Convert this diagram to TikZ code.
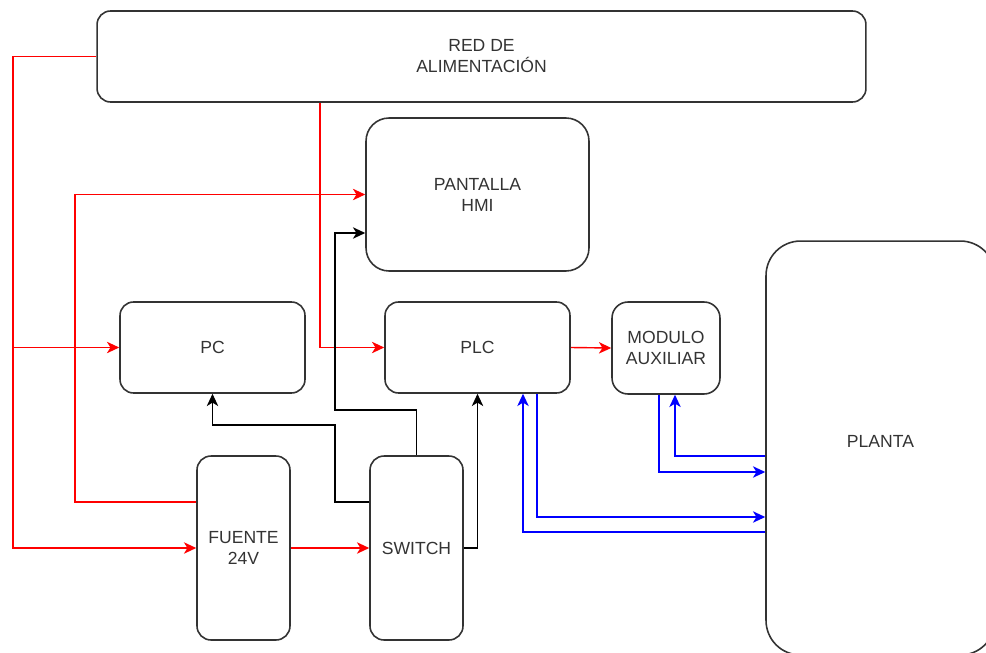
\documentclass[tikz,border=0pt]{standalone}
\usepackage{fontspec}
\setmainfont{Liberation Sans}
\usetikzlibrary{arrows.meta}
\definecolor{boxgray}{HTML}{333333}

\tikzset{
  blk/.style={draw=boxgray,line width=0.9pt,rounded corners=#1,align=center,
    inner sep=0pt,text=boxgray,font=\fontsize{10}{12}\selectfont},
  tip/.style={-{Stealth[length=7pt,width=6.5pt,inset=2pt]}},
  pwr/.style={red,line width=0.8pt,tip},
  eth/.style={black,line width=0.8pt,tip},
  sig/.style={blue,line width=0.8pt,tip}
}

\begin{document}
\begin{tikzpicture}[x=0.02cm,y=-0.02cm]
\useasboundingbox (0,0) rectangle (986,652);
\clip (0,0) rectangle (986,652);
% blocks
\node[blk=0.27cm,minimum width=15.38cm,minimum height=1.82cm] (red) at (481.5,56.5) {RED DE\\ALIMENTACIÓN};
\node[blk=0.46cm,minimum width=4.46cm,minimum height=3.06cm] (hmi) at (477.5,194.5) {PANTALLA\\HMI};
\node[blk=0.27cm,minimum width=3.7cm,minimum height=1.82cm] (pc) at (212.5,347.5) {PC};
\node[blk=0.27cm,minimum width=3.7cm,minimum height=1.82cm] (plc) at (477.5,347.5) {PLC};
\node[blk=0.32cm,minimum width=2.16cm,minimum height=1.84cm] (aux) at (666,348) {MODULO\\AUXILIAR};
\node[blk=0.69cm,minimum width=4.58cm,minimum height=8.28cm,
  label={[text=boxgray,font=\fontsize{10}{12}\selectfont,yshift=0.14cm]center:PLANTA}] (planta) at (880.5,448) {};
\node[blk=0.28cm,minimum width=1.86cm,minimum height=3.68cm] (fuente) at (243.5,548) {FUENTE\\24V};
\node[blk=0.28cm,minimum width=1.86cm,minimum height=3.68cm] (switch) at (416.5,548) {SWITCH};
% bend points
\coordinate (l1) at (13,0);
\coordinate (l2) at (75,502);
\coordinate (l3) at (335,410);
\coordinate (l4) at (335,233);
\coordinate (l5) at (320,0);
\coordinate (l6) at (335,425);
\coordinate (b1) at (537,517);
\coordinate (b2) at (523,532);
\coordinate (b3) at (659,472);
\coordinate (b4) at (675,456);
% alimentacion
\draw[pwr] (red.west) -| (l1 |- fuente.west) -- (fuente.west);
\draw[pwr] (l1 |- pc.west) -- (pc.west);
\draw[pwr] (fuente.west |- l2) -- (l2) |- (hmi.west);
\draw[pwr] (red.south -| l5) |- (plc.west);
\draw[pwr] (fuente.east) -- (switch.west);
\draw[pwr] (plc.east) -- (aux.west);
% red ethernet
\draw[eth] (switch.north) |- (l3) -- (l4) -- (l4 -| hmi.west);
\draw[eth] (switch.west |- l2) -| (l6) -| (pc.south);
\draw[eth] (switch.east) -| (plc.south);
% senales
\draw[sig] (b1 |- plc.south) -- (b1) -- (b1 -| planta.west);
\draw[sig] (b2 -| planta.west) -- (b2) -- (b2 |- plc.south);
\draw[sig] (b3 |- aux.south) -- (b3) -- (b3 -| planta.west);
\draw[sig] (b4 -| planta.west) -- (b4) -- (b4 |- aux.south);
\end{tikzpicture}
\end{document}
